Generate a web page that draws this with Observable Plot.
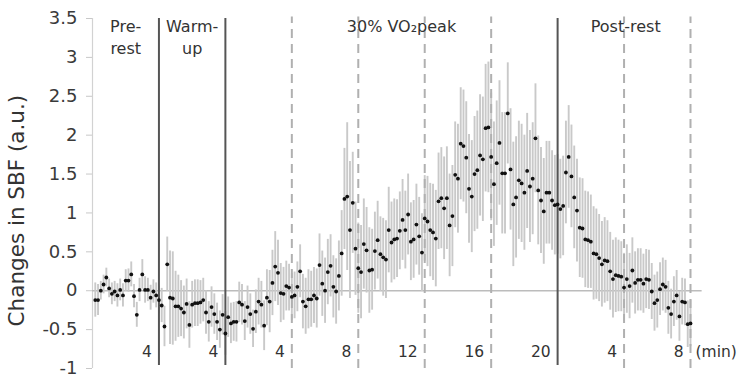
<!DOCTYPE html>
<html><head><meta charset="utf-8">
<script src="https://cdn.jsdelivr.net/npm/d3@7"></script>
<script src="https://cdn.jsdelivr.net/npm/@observablehq/plot@0.6"></script>
<style>
body{margin:0;background:#fff;}
#chart{width:737px;height:378px;}
</style></head><body><div id="chart"></div>
<script>
// Phases (minutes on a continuous time line), 10-s samples
const phaseNames = ["Pre-\nrest", "Warm-\nup", "30% VO₂peak", "Post-rest"];
const phaseStart = [0, 4, 8, 28];
const phaseLabelAt = [2, 6, 18.6, 32.1];
const solidBounds = [4, 8, 28];
const dashedBounds = [12, 16, 20, 24, 32, 36];
const minuteMarks = [4, 8, 12, 16, 20, 24, 28, 32, 36];
const minuteLabels = ["4", "4", "4", "8", "12", "16", "20", "4", "8"];
const yTicks = [-1, -0.5, 0, 0.5, 1, 1.5, 2, 2.5, 3, 3.5];
const samplesPerMin = 6;

const preRestMean = [-0.12,-0.12,0.00,0.08,0.17,0.03,-0.04,-0.01,-0.06,0.01,-0.06,0.13,0.13,0.21,-0.07,-0.31,0.01,0.21,0.01,0.01,-0.09,-0.01,-0.06,-0.12];
const preRestErr  = [0.22,0.20,0.12,0.12,0.12,0.12,0.14,0.13,0.15,0.14,0.15,0.14,0.15,0.16,0.15,0.16,0.15,0.19,0.17,0.15,0.16,0.15,0.16,0.18];

const warmUpMean = [-0.19,-0.46,0.34,-0.09,-0.10,-0.20,-0.20,-0.23,-0.28,-0.17,-0.44,-0.18,-0.16,-0.16,-0.15,-0.12,-0.28,-0.40,-0.21,-0.30,-0.40,-0.50,-0.31,-0.55];
const warmUpErr  = [0.22,0.26,0.35,0.60,0.60,0.45,0.40,0.36,0.34,0.32,0.30,0.30,0.30,0.30,0.28,0.28,0.28,0.26,0.26,0.26,0.24,0.24,0.26,0.28];

const exerciseMean = [
 -0.34,-0.42,-0.40,-0.40,-0.15,-0.18,-0.39,-0.21,-0.30,-0.49,-0.27,-0.14,-0.18,-0.45,-0.09,-0.14,0.10,0.31,0.23,-0.03,-0.04,0.06,0.04,-0.08,
 -0.06,0.05,0.25,-0.14,-0.20,-0.11,-0.11,-0.06,-0.10,0.33,0.09,0.00,0.24,0.32,0.05,-0.01,0.19,0.48,1.18,1.21,0.78,1.13,0.54,0.29,
 0.24,0.60,0.52,0.26,0.27,0.51,0.65,0.47,0.43,0.40,0.78,0.62,0.66,0.67,0.77,0.91,0.78,0.98,0.63,0.66,0.85,0.70,0.49,0.93,
 0.89,0.78,0.75,0.67,1.15,1.19,1.06,1.19,0.84,0.96,1.49,1.44,1.89,1.86,1.71,1.31,1.21,1.50,1.55,1.74,1.69,2.09,2.10,1.72,
 1.37,1.64,1.90,1.51,1.51,2.28,1.56,1.11,1.20,1.42,1.38,1.26,1.54,1.34,1.44,1.96,1.29,1.16,1.02,1.26,1.26,1.16,1.10,1.11];
const exerciseErr = [
 0.26,0.26,0.25,0.26,0.26,0.26,0.25,0.27,0.26,0.24,0.28,0.30,0.30,0.32,0.36,0.40,0.42,0.45,0.42,0.38,0.34,0.32,0.30,0.30,
 0.30,0.32,0.34,0.35,0.36,0.38,0.36,0.36,0.38,0.40,0.42,0.42,0.42,0.40,0.40,0.42,0.45,0.55,0.65,0.95,0.88,0.65,0.60,0.58,
 0.60,0.58,0.55,0.55,0.52,0.50,0.50,0.48,0.50,0.50,0.55,0.52,0.52,0.50,0.50,0.52,0.50,0.52,0.50,0.50,0.52,0.50,0.50,0.55,
 0.58,0.60,0.62,0.62,0.62,0.65,0.66,0.66,0.66,0.65,0.68,0.70,0.72,0.72,0.72,0.70,0.72,0.74,0.76,0.78,0.80,0.82,0.84,0.82,
 0.80,0.80,0.80,0.78,0.78,0.65,0.78,0.80,0.78,0.76,0.76,0.74,0.74,0.72,0.72,0.70,0.70,0.68,0.68,0.66,0.66,0.64,0.64,0.64];

const postRestMean = [
 1.05,1.09,1.52,1.72,1.47,1.20,1.03,0.81,0.80,0.66,0.65,0.63,0.48,0.47,0.42,0.34,0.39,0.38,0.25,0.15,0.20,0.19,0.18,0.04,
 0.15,0.06,0.26,0.10,0.14,0.14,0.09,0.15,0.14,-0.01,-0.16,-0.12,0.02,0.08,0.05,-0.22,-0.30,-0.14,-0.06,-0.33,-0.14,-0.15,-0.43,-0.42];
const postRestErr = [
 0.64,0.64,0.66,0.66,0.66,0.66,0.66,0.64,0.64,0.62,0.62,0.60,0.60,0.58,0.56,0.55,0.55,0.52,0.50,0.50,0.48,0.46,0.45,0.44,
 0.44,0.42,0.42,0.40,0.40,0.40,0.38,0.38,0.38,0.36,0.36,0.36,0.34,0.34,0.34,0.34,0.32,0.32,0.32,0.32,0.30,0.30,0.30,0.30];

const segMeans = [preRestMean, warmUpMean, exerciseMean, postRestMean];
const segErrs = [preRestErr, warmUpErr, exerciseErr, postRestErr];
const data = segMeans.flatMap((arr, s) => arr.map((m, i) => ({
  t: phaseStart[s] + (i + 1) / samplesPerMin, m, e: segErrs[s][i]
})));

const chart = Plot.plot({
  width: 737, height: 378,
  marginLeft: 92, marginRight: 47, marginTop: 18, marginBottom: 10,
  x: {domain: [0, 36], axis: null},
  y: {domain: [-1, 3.5], axis: null},
  style: {fontFamily: "DejaVu Sans", background: "#fff", overflow: "visible"},
  marks: [
    Plot.ruleX([0], {y1: -1, y2: 3.5, stroke: "#d2d2d2", strokeWidth: 1.2}),
    Plot.axisY({ticks: yTicks, tickFormat: d => String(d), tickSize: 6, tickPadding: 9,
      stroke: "#c8c8c8", fill: "#3a3a3a", fontSize: 18, label: null}),
    Plot.ruleY([0], {x1: 0, x2: 36.7, stroke: "#bcbcbc", strokeWidth: 1.5}),
    Plot.ruleX(data, {x: "t", y1: d => d.m - d.e, y2: d => d.m + d.e, stroke: "#c9c9c9", strokeWidth: 1.9}),
    Plot.ruleX(dashedBounds, {y1: -1, y2: 3.52, stroke: "#b0b0b0", strokeWidth: 2, strokeDasharray: "9,6"}),
    Plot.ruleX(solidBounds, {y1: -0.96, y2: 3.5, stroke: "#555", strokeWidth: 2}),
    Plot.dot(data, {x: "t", y: "m", r: 1.9, fill: "#111", stroke: null}),
    Plot.text(minuteMarks, {x: d => d, y: -0.857, text: (d, i) => minuteLabels[i],
      textAnchor: "end", lineAnchor: "bottom", dx: -7, fontSize: 15.5, fill: "#333"}),
    Plot.text(["(min)"], {x: 36, y: -0.857, textAnchor: "start", lineAnchor: "bottom", dx: 5, fontSize: 15.5, fill: "#333"}),
    Plot.text(phaseNames, {x: (d, i) => phaseLabelAt[i], y: 3.52, text: d => d,
      lineAnchor: "top", lineHeight: 1.36, fontSize: 16, fill: "#333"}),
    Plot.text(["Changes in SBF (a.u.)"], {frameAnchor: "left", y: 1.03, dx: -75, rotate: -90,
      textAnchor: "middle", fontSize: 21.5, fill: "#333"})
  ]
});
document.getElementById("chart").appendChild(chart);
</script></body></html>
